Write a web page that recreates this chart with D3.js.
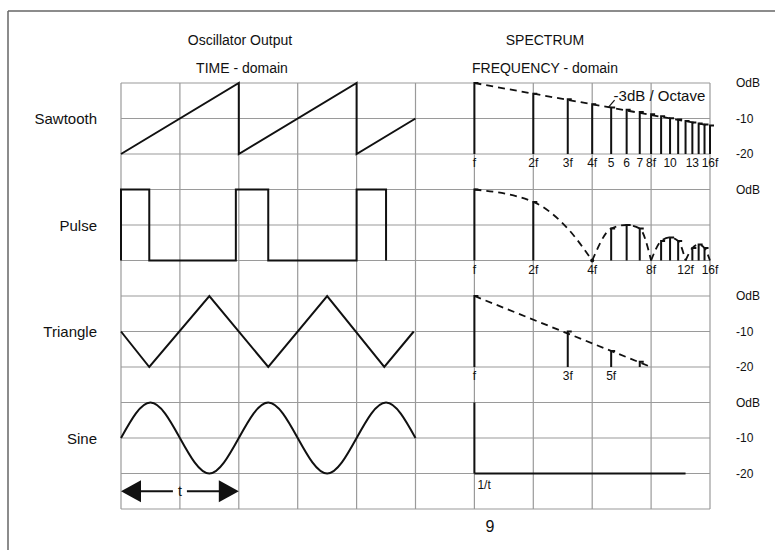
<!DOCTYPE html>
<html>
<head>
<meta charset="utf-8">
<script src="https://cdn.jsdelivr.net/npm/d3@7"></script>
<style>
  body { margin: 0; background: #fff; }
  text { font-family: "Liberation Sans", Arial, sans-serif; fill: #111; }
</style>
</head>
<body>
<div id="chart"></div>
<script>
// time domain waveforms, t in grid columns, amplitude -1..1
const sawTime = [[0,-1],[2,1],[2,-1],[4,1],[4,-1],[5,0]];
const pulseTime = [[0,-1],[0,1],[0.48,1],[0.48,-1],[1.95,-1],[1.95,1],[2.5,1],[2.5,-1],[4,-1],[4,1],[4.5,1],[4.5,-1]];
const triTime = [[0,0],[0.48,-1],[1.5,1],[2.5,-1],[3.5,1],[4.47,-1],[4.97,0]];
const sineTime = [[0,0],[0.5,1],[1,0],[1.5,-1],[2,0],[2.5,1],[3,0],[3.5,-1],[4,0],[4.5,1],[5,0]];

// spectra: harmonic number and level in dB
const sawHarm = [1,2,3,4,5,6,7,8,9,10,11,12,13,14,15,16];
const sawDb = [0,-3,-4.6,-6,-6.9,-7.5,-8.2,-8.8,-9.4,-9.9,-10.3,-10.7,-11.1,-11.4,-11.7,-12];
const sawEnv = [[1,0],[16,-12]];
const sawLabels = [[1,"f"],[2,"2f"],[3,"3f"],[4,"4f"],[5,"5"],[6,"6"],[7,"7"],[8,"8f"],[10,"10"],[13,"13"],[16,"16f"]];

const pulseHarm = [1,2,5,6,7,9,10,11,13,14,15];
const pulseDb = [0,-3.5,-11,-10,-11,-14.5,-13.5,-14.5,-16.5,-15.5,-16.5];
const pulseEnv = [
  [[1,0],[2,-3.5],[3,-11],[4,-20]],
  [[4,-20],[5,-11],[6,-10],[7,-11],[8,-20]],
  [[8,-20],[9,-14.5],[10,-13.5],[11,-14.5],[12,-20]],
  [[12,-20],[13,-16.5],[14,-15.5],[15,-16.5],[16,-20]]
];
const pulseNulls = [4];
const pulseLabels = [[1,"f"],[2,"2f"],[4,"4f"],[8,"8f"],[12,"12f"],[16,"16f"]];

const triHarm = [1,3,5,7];
const triDb = [0,-10,-15.5,-18.5];
const triEnv = [[1,0],[8,-20]];
const triLabels = [[1,"f"],[3,"3f"],[5,"5f"]];

const sineHarm = [1];
const sineDb = [0];
const sineFloor = [[1,-20],[12,-20]];

const dbTicks = ["OdB","-10","-20"];

const width = 775, height = 550;
const svg = d3.select("#chart").append("svg")
  .attr("width", width).attr("height", height);

// grid: 10 columns, 12 rows
const gx = d3.scaleLinear().domain([0,10]).range([121,710]);
const gy = d3.scaleLinear().domain([0,12]).range([83,509]);
const tx = d3.scaleLinear().domain([0,5]).range([gx(0),gx(5)]);
const fx = d3.scaleLog().base(2).domain([1,16]).range([gx(6),gx(10)]);

// page border (top and left only)
svg.append("line").attr("x1",8).attr("y1",11).attr("x2",width).attr("y2",11)
  .attr("stroke","#666").attr("stroke-width",1.5);
svg.append("line").attr("x1",8).attr("y1",11).attr("x2",8).attr("y2",height)
  .attr("stroke","#666").attr("stroke-width",1.5);

const grid = svg.append("g").attr("stroke","#9a9a9a").attr("stroke-width",1.2);
grid.selectAll(".v").data(d3.range(11)).enter().append("line")
  .attr("x1",d=>gx(d)).attr("x2",d=>gx(d)).attr("y1",gy(0)).attr("y2",gy(12));
grid.selectAll(".h").data(d3.range(13)).enter().append("line")
  .attr("y1",d=>gy(d)).attr("y2",d=>gy(d)).attr("x1",gx(0)).attr("x2",gx(10));

// headings
const heads = [["Oscillator Output",240,40],["TIME - domain",242,68],["SPECTRUM",545,40],["FREQUENCY - domain",545,68]];
svg.selectAll(".head").data(heads).enter().append("text")
  .attr("x",d=>d[1]).attr("y",d=>d[2]).attr("text-anchor","middle")
  .attr("dominant-baseline","central").attr("font-size",14).text(d=>d[0]);

const rows = [
  {name:"Sawtooth", r:0, time:sawTime, curve:d3.curveLinear, harm:sawHarm, db:sawDb, env:[sawEnv], labels:sawLabels, ticks:dbTicks, hook:4},
  {name:"Pulse", r:3, time:pulseTime, curve:d3.curveLinear, harm:pulseHarm, db:pulseDb, env:pulseEnv, labels:pulseLabels, ticks:dbTicks.slice(0,1), nulls:pulseNulls, hook:4},
  {name:"Triangle", r:6, time:triTime, curve:d3.curveLinear, harm:triHarm, db:triDb, env:[triEnv], labels:triLabels, ticks:dbTicks, hook:4},
  {name:"Sine", r:9, time:sineTime, curve:d3.curveNatural, harm:sineHarm, db:sineDb, env:[], labels:[], ticks:dbTicks, floor:sineFloor, hook:0}
];

rows.forEach(function(row){
  const ay = d3.scaleLinear().domain([-1,1]).range([gy(row.r+2),gy(row.r)]);
  const dy = d3.scaleLinear().domain([-20,0]).range([gy(row.r+2),gy(row.r)]);

  svg.append("text").attr("x",97).attr("y",gy(row.r+1))
    .attr("text-anchor","end").attr("dominant-baseline","central")
    .attr("font-size",15).text(row.name);

  // time domain
  const line = d3.line().x(d=>tx(d[0])).y(d=>ay(d[1])).curve(row.curve);
  svg.append("path").attr("d",line(row.time))
    .attr("fill","none").attr("stroke","#111").attr("stroke-width",2);

  // spectrum lines with a little hook on top
  svg.selectAll(null).data(d3.zip(row.harm,row.db)).enter().append("path")
    .attr("d",d=>"M"+fx(d[0])+","+dy(-20)+"V"+dy(d[1])+"h"+row.hook)
    .attr("fill","none").attr("stroke","#111").attr("stroke-width",2);

  const envLine = d3.line().x(d=>fx(d[0])).y(d=>dy(d[1])).curve(d3.curveMonotoneX);
  row.env.forEach(function(seg){
    svg.append("path").attr("d",envLine(seg))
      .attr("fill","none").attr("stroke","#111").attr("stroke-width",1.8)
      .attr("stroke-dasharray","7,5");
  });

  if(row.nulls){
    svg.selectAll(null).data(row.nulls).enter().append("circle")
      .attr("cx",d=>fx(d)).attr("cy",dy(-20)).attr("r",2).attr("fill","#111");
  }
  if(row.floor){
    svg.append("path").attr("d",d3.line().x(d=>fx(d[0])).y(d=>dy(d[1]))(row.floor))
      .attr("fill","none").attr("stroke","#111").attr("stroke-width",2);
    svg.append("text").attr("x",fx(1)+3).attr("y",dy(-20)+15)
      .attr("font-size",12).text("1/t");
  }

  svg.selectAll(null).data(row.labels).enter().append("text")
    .attr("x",d=>fx(d[0])).attr("y",dy(-20)+13)
    .attr("text-anchor","middle").attr("font-size",12).text(d=>d[1]);

  svg.selectAll(null).data(row.ticks).enter().append("text")
    .attr("x",736).attr("y",(d,i)=>gy(row.r+i))
    .attr("dominant-baseline","central").attr("font-size",12).text(d=>d);
});

// -3dB / Octave note with leader
const sawDy = d3.scaleLinear().domain([-20,0]).range([gy(2),gy(0)]);
const ax = fx(4.85), ayy = sawDy(-6.8);
svg.append("line").attr("x1",ax).attr("y1",ayy).attr("x2",ax+6).attr("y2",ayy-7)
  .attr("stroke","#111").attr("stroke-width",1.2);
svg.append("text").attr("x",ax+5).attr("y",ayy-12).attr("dominant-baseline","central")
  .attr("font-size",15).text("-3dB / Octave");

// period arrow
const arrowY = gy(11.5);
const arrow = svg.append("g");
arrow.append("path")
  .attr("d","M"+tx(0)+","+arrowY+"l20,-11v22z").attr("fill","#111");
arrow.append("path")
  .attr("d","M"+tx(2)+","+arrowY+"l-20,-11v22z").attr("fill","#111");
arrow.append("line").attr("x1",tx(0)+18).attr("x2",tx(1)-7).attr("y1",arrowY).attr("y2",arrowY)
  .attr("stroke","#111").attr("stroke-width",2);
arrow.append("line").attr("x1",tx(1)+7).attr("x2",tx(2)-18).attr("y1",arrowY).attr("y2",arrowY)
  .attr("stroke","#111").attr("stroke-width",2);
arrow.append("text").attr("x",tx(1)).attr("y",arrowY).attr("text-anchor","middle")
  .attr("dominant-baseline","central").attr("font-size",14).text("t");

// page number
svg.append("text").attr("x",490).attr("y",526).attr("text-anchor","middle")
  .attr("dominant-baseline","central").attr("font-size",16).text("9");
</script>
</body>
</html>
